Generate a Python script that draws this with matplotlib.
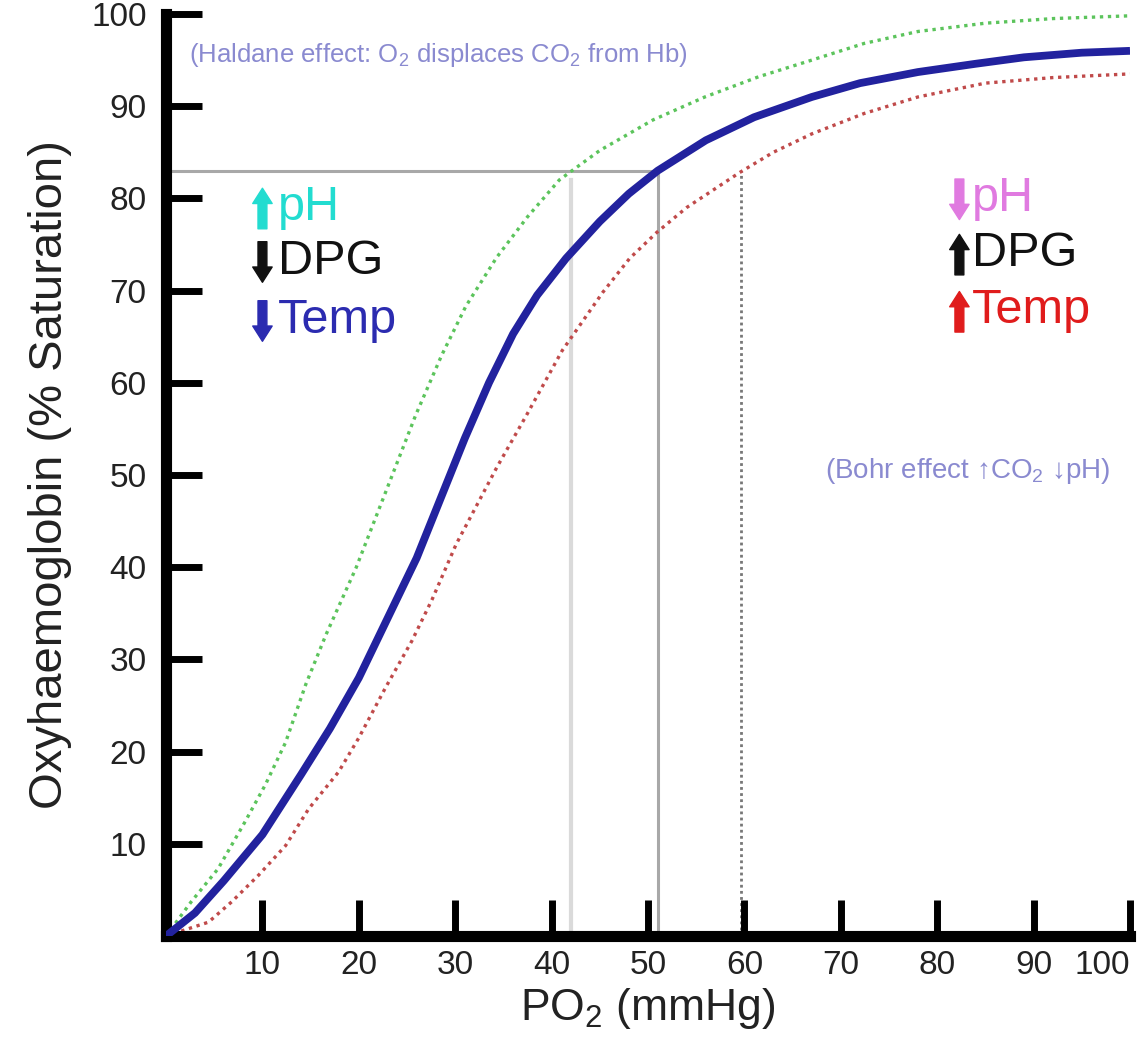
import matplotlib
matplotlib.use("Agg")
import matplotlib.pyplot as plt

plt.rcParams['font.family'] = ['Liberation Sans', 'DejaVu Sans']
plt.rcParams['mathtext.default'] = 'regular'

# values (PO2 in mmHg, saturation in %)
normal_po2 = [0, 3, 6, 10, 14, 17, 20, 23, 26, 28.5, 31, 33.5, 36, 38.5, 41.5,
              45, 48, 51, 56, 61, 67, 72, 78, 84, 89, 95, 100]
normal_sat = [0, 2.5, 6, 11, 17.5, 22.5, 28, 34.5, 41, 47.5, 54, 60, 65.3, 69.5, 73.5,
              77.5, 80.5, 83, 86.3, 88.8, 91, 92.5, 93.7, 94.6, 95.3, 95.8, 96]

left_po2 = [0, 2.6, 5.4, 8.2, 10.3, 12.4, 14.5, 16.6, 19.7, 23.1, 25.9, 28.6, 31.1,
            34.3, 37.5, 40.8, 45, 50.5, 55.9, 61.5, 67, 72.4, 78, 85, 92, 100]
left_sat = [0, 3.7, 7.3, 12.4, 16.4, 21, 27.3, 32.7, 39.9, 49, 56.5, 63, 68.3,
            73.6, 78, 82, 85.2, 88.5, 91, 93.2, 95, 96.8, 98.1, 99, 99.5, 99.8]

right_po2 = [0, 4.4, 6.8, 9.6, 12.4, 14.8, 17.9, 20, 22.8, 25.5, 27.6, 30.1, 34.3,
             37.4, 41.1, 45.3, 48.1, 50.9, 54, 59.5, 63, 67, 72.4, 78, 85, 92, 100]
right_sat = [0, 1.5, 3.7, 6.6, 9.8, 13.8, 17.8, 21.5, 27, 32, 36.5, 42.5, 50.8,
             56.5, 63.5, 69.8, 73.5, 76.3, 79, 82.8, 85, 87, 89.2, 91, 92.5, 93.1, 93.5]

ref_sat = 83
p_left, p_normal, p_right = 42, 51, 59.6

ticks = [10, 20, 30, 40, 50, 60, 70, 80, 90, 100]

left_labels = ['pH', 'DPG', 'Temp']
left_up = [True, False, False]
left_colors = ['#22dcd0', '#111111', '#2b2bb0']
right_labels = ['pH', 'DPG', 'Temp']
right_up = [False, True, True]
right_colors = ['#e07ae0', '#111111', '#e01c1c']

fig = plt.figure(figsize=(11.42, 10.58), dpi=100)
ax = fig.add_axes([0.1454, 0.1153, 0.8441, 0.8715])

# reference lines
ax.plot([0, p_normal], [ref_sat, ref_sat], color='#a8a8a8', lw=2.2, zorder=1)
ax.plot([p_normal, p_normal], [0, ref_sat], color='#a8a8a8', lw=2.2, zorder=1)
ax.plot([p_left, p_left], [0, ref_sat - 1], color='#dadada', lw=3, zorder=1)
ax.plot([p_right, p_right], [0, ref_sat], color='#777777', lw=2, ls=(0, (1, 1.2)), zorder=1)

# curves
ax.plot(left_po2, left_sat, color='#5cc45c', lw=2.4, ls=(0, (1, 1.4)), zorder=2)
ax.plot(right_po2, right_sat, color='#c04a4a', lw=2.4, ls=(0, (1, 1.4)), zorder=2)
ax.plot(normal_po2, normal_sat, color='#22229e', lw=5.6, solid_capstyle='butt',
        solid_joinstyle='round', zorder=3)

ax.set_xlim(0, 100)
ax.set_ylim(0, 100)
ax.set_xticks(ticks)
ax.set_yticks(ticks)
ax.tick_params(direction='in', length=26, width=5, color='black', labelsize=24,
               labelcolor='#222222')
ax.tick_params(axis='y', pad=14)
ax.tick_params(axis='x', pad=10)
ax.yaxis.get_major_ticks()[2].tick1line.set_color('#00664a')
last = ax.get_xticklabels()[-1]
last.set_horizontalalignment('right')

for side in ['top', 'right']:
    ax.spines[side].set_visible(False)
for side in ['left', 'bottom']:
    ax.spines[side].set_linewidth(8)

ax.set_xlabel('PO$_2$ (mmHg)', fontsize=32, labelpad=4, color='#222222')
ax.set_ylabel('Oxyhaemoglobin (% Saturation)', fontsize=34, labelpad=14, color='#222222')

arrow_style = 'simple,head_length=0.55,head_width=0.7,tail_width=0.32'


def label_rows(x_arrow, x_text, rows, ups, labels, colors):
    for y, up, lab, c in zip(rows, ups, labels, colors):
        lo, hi = y - 2.3, y + 2.1
        start, end = (lo, hi) if up else (hi, lo)
        ax.annotate('', xy=(x_arrow, end), xytext=(x_arrow, start),
                    arrowprops=dict(arrowstyle=arrow_style, color=c,
                                    mutation_scale=20, shrinkA=0, shrinkB=0))
        ax.text(x_text, y, lab, color=c, fontsize=35, va='center', ha='left')


label_rows(10.0, 11.6, [79, 73.2, 66.8], left_up, left_labels, left_colors)
label_rows(82.3, 83.6, [80, 74, 67.8], right_up, right_labels, right_colors)

ax.text(2.4, 95.5, '(Haldane effect: O$_2$ displaces CO$_2$ from Hb)', color='#8a8ad0',
        fontsize=18.5, va='center', ha='left')
ax.text(68.4, 50.4, '(Bohr effect ↑CO$_2$ ↓pH)', color='#8a8ad0',
        fontsize=20, va='center', ha='left')

fig.savefig('out.png', dpi=100)
